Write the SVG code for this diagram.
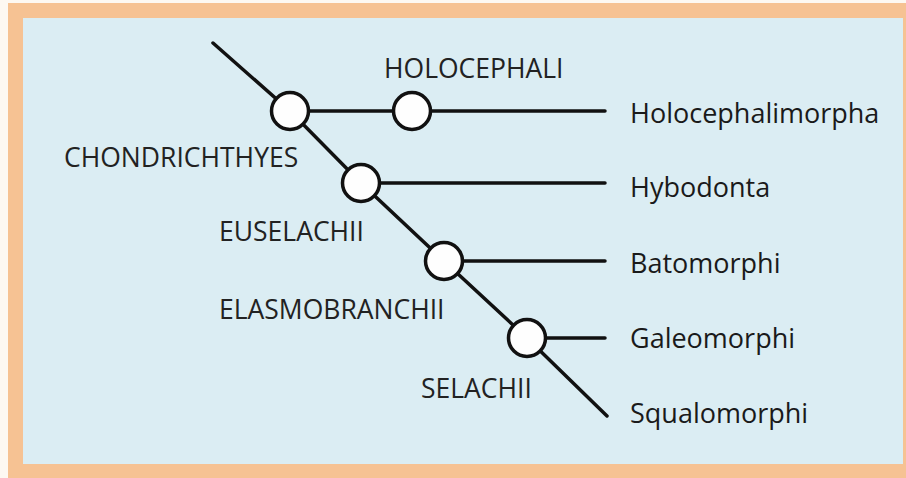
<svg xmlns="http://www.w3.org/2000/svg" width="906" height="478" viewBox="0 0 906 478">
  <defs>
    <style>
      .frame { fill: #f6c293; }
      .panel { fill: #dbedf3; }
      .branch { stroke: #111; stroke-width: 3.5; stroke-linecap: round; fill: none; }
      .node { fill: #fefefe; stroke: #111; stroke-width: 3.5; }
      .clade { font-family: "Open Sans", "Liberation Sans", sans-serif; font-size: 26.5px; fill: #222; }
      .taxon { font-family: "Open Sans", "Liberation Sans", sans-serif; font-size: 27px; fill: #1a1a1a; }
    </style>
  </defs>

  <!-- background frame -->
  <rect x="0" y="0" width="906" height="478" fill="#fdf8f2"/>
  <rect class="frame" x="8" y="3" width="898" height="475"/>
  <rect class="panel" x="23" y="18" width="880" height="446"/>

  <!-- tree branches -->
  <g id="connectors">
    <polyline class="branch" points="213,43 290,111 361,183 444,261 527,338 607,416"/>
    <line class="branch" x1="290" y1="111" x2="605" y2="111"/>
    <line class="branch" x1="361" y1="183" x2="605" y2="183"/>
    <line class="branch" x1="444" y1="261" x2="605" y2="261"/>
    <line class="branch" x1="527" y1="338" x2="605" y2="338"/>
  </g>

  <!-- branching nodes -->
  <g id="chondrichthyes">
    <circle class="node" cx="290" cy="111" r="18.5"/>
    <text class="clade" x="64" y="167">CHONDRICHTHYES</text>
  </g>
  <g id="holocephali">
    <circle class="node" cx="412" cy="111" r="18.5"/>
    <text class="clade" x="384" y="78">HOLOCEPHALI</text>
  </g>
  <g id="euselachii">
    <circle class="node" cx="361" cy="183" r="18.5"/>
    <text class="clade" x="219" y="241">EUSELACHII</text>
  </g>
  <g id="elasmobranchii">
    <circle class="node" cx="444" cy="261" r="18.5"/>
    <text class="clade" x="219" y="319">ELASMOBRANCHII</text>
  </g>
  <g id="selachii">
    <circle class="node" cx="527" cy="338" r="18.5"/>
    <text class="clade" x="421" y="398">SELACHII</text>
  </g>

  <!-- terminal taxa -->
  <g id="holocephalimorpha"><text class="taxon" x="630" y="123">Holocephalimorpha</text></g>
  <g id="hybodonta"><text class="taxon" x="630" y="197">Hybodonta</text></g>
  <g id="batomorphi"><text class="taxon" x="630" y="273">Batomorphi</text></g>
  <g id="galeomorphi"><text class="taxon" x="630" y="348">Galeomorphi</text></g>
  <g id="squalomorphi"><text class="taxon" x="630" y="423">Squalomorphi</text></g>
</svg>
